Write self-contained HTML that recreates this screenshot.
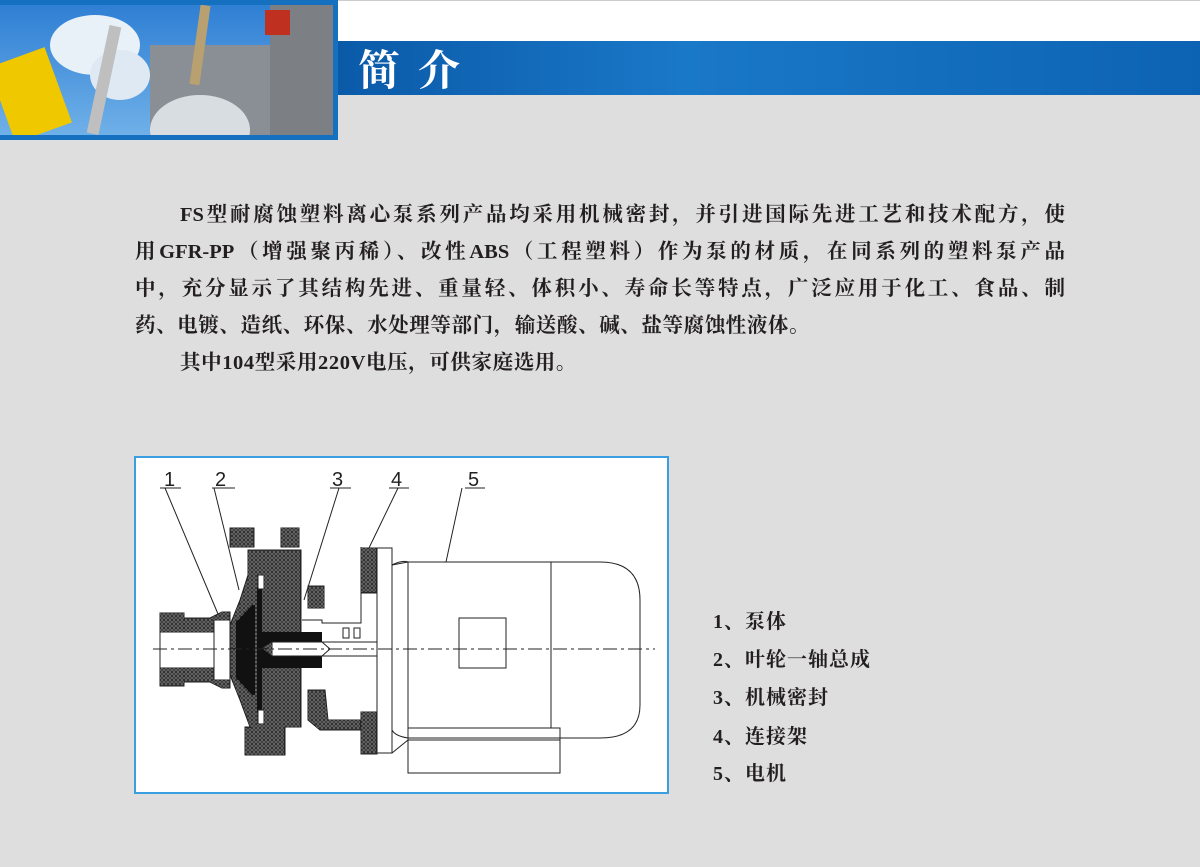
<!DOCTYPE html>
<html><head><meta charset="utf-8">
<style>
html,body{margin:0;padding:0}
body{width:1200px;height:867px;background:#dededf;position:relative;overflow:hidden;font-family:"Liberation Serif","Noto Serif CJK SC",serif}
.ln{position:absolute;left:135px;width:930px;font-size:20.5px;font-weight:bold;color:#231f20;white-space:nowrap;line-height:24px}
.j{text-align:justify;text-align-last:justify}
.lg{position:absolute;left:713px;font-size:20px;font-weight:bold;color:#231f20;line-height:22px;letter-spacing:1px}
</style></head><body>
<div style="position:absolute;left:338px;top:0;width:862px;height:41px;background:#fff;border-top:1px solid #ccc"></div>
<div style="position:absolute;left:338px;top:41px;width:862px;height:54px;background:linear-gradient(90deg,#0a5aa8,#1a78c8 40%,#0d63b3)"></div>
<div style="position:absolute;left:358px;top:40px;font-size:42px;font-weight:bold;color:#fff;font-family:'Noto Serif CJK SC',serif;letter-spacing:18px;line-height:56px">简介</div>
<div style="position:absolute;left:0;top:0;width:338px;height:140px;background:#1570c0"></div>
<svg style="position:absolute;left:0;top:5px" width="333" height="130" viewBox="0 0 333 130">
<defs><linearGradient id="sky" x1="0" y1="0" x2="0" y2="1"><stop offset="0" stop-color="#2f7fd4"/><stop offset="1" stop-color="#6fb0e8"/></linearGradient></defs>
<rect width="333" height="130" fill="url(#sky)"/>
<ellipse cx="95" cy="40" rx="45" ry="30" fill="#e8f0f8"/>
<ellipse cx="120" cy="70" rx="30" ry="25" fill="#dfe9f4"/>
<rect x="0" y="50" width="60" height="80" fill="#f0c800" transform="rotate(-20 30 90)"/>
<rect x="98" y="20" width="12" height="110" fill="#bfbfbf" transform="rotate(12 104 75)"/>
<rect x="150" y="40" width="140" height="90" fill="#8a8f96"/>
<ellipse cx="200" cy="125" rx="50" ry="35" fill="#d8dde2"/>
<rect x="270" y="0" width="63" height="130" fill="#7c7f84"/>
<rect x="265" y="5" width="25" height="25" fill="#c03020"/>
<rect x="195" y="0" width="10" height="80" fill="#b8a070" transform="rotate(8 200 40)"/>
</svg>
<div class="ln j" style="left:180px;width:885px;top:203px">FS型耐腐蚀塑料离心泵系列产品均采用机械密封，并引进国际先进工艺和技术配方，使</div>
<div class="ln j" style="top:240px">用GFR-PP（增强聚丙稀）、改性ABS（工程塑料）作为泵的材质，在同系列的塑料泵产品</div>
<div class="ln j" style="top:277px">中，充分显示了其结构先进、重量轻、体积小、寿命长等特点，广泛应用于化工、食品、制</div>
<div class="ln" style="top:314px;letter-spacing:0.6px">药、电镀、造纸、环保、水处理等部门，输送酸、碱、盐等腐蚀性液体。</div>
<div class="ln" style="left:180px;top:351px;letter-spacing:0.6px">其中104型采用220V电压，可供家庭选用。</div>
<div style="position:absolute;left:134px;top:456px;width:531px;height:334px;background:#fff;border:2px solid #3a9ee0"></div>
<svg style="position:absolute;left:0;top:0" width="1200" height="867" viewBox="0 0 1200 867" fill="none" stroke="#222" stroke-width="1">
<defs><pattern id="h" width="4" height="4" patternUnits="userSpaceOnUse"><rect width="4" height="4" fill="#fff"/><path d="M0 0L4 4M4 0L0 4" stroke="#333" stroke-width="1"/></pattern></defs>
<g font-family="Liberation Sans,sans-serif" font-size="20" fill="#222" stroke="none">
<text x="164" y="486">1</text><text x="215" y="486">2</text><text x="332" y="486">3</text><text x="391" y="486">4</text><text x="468" y="486">5</text></g>
<path d="M160 488H181M212 488H235M330 488H351M389 488H409M465 488H485"/>
<path d="M165 488L218 614M214 488L239 590M339 488L304 600M398 488L368 550M462 488L446 562"/>
<rect x="160" y="613" width="24" height="73" fill="url(#h)"/>
<path d="M184 618H210L222 612H230V688H222L210 682H184Z" fill="url(#h)"/>
<rect x="160" y="632" width="62" height="36" fill="#fff"/>
<rect x="214" y="620" width="16" height="60" fill="#fff" stroke="#222"/>
<rect x="230" y="528" width="24" height="19" fill="url(#h)"/><rect x="281" y="528" width="18" height="19" fill="url(#h)"/>
<path d="M248 550H301V727H285V755H245V727H250L240 700L230 675V625L240 600L248 575Z" fill="url(#h)"/>
<rect x="308" y="586" width="16" height="22" fill="url(#h)"/>
<path d="M308 690L325 690L328 720H365V730H320L308 720Z" fill="url(#h)"/>
<rect x="361" y="548" width="16" height="45" fill="url(#h)"/>
<rect x="361" y="712" width="16" height="42" fill="url(#h)"/>
<path d="M302 620H322V623H361V547" />
<rect x="377" y="548" width="15" height="205" fill="#fff"/>
<path d="M257 587L262 587L262 712L257 712Z M236 622L252 605L255 605L255 695L252 695L236 678Z M262 632H322V642H272L262 648L272 656H322V668H262Z" fill="#111" stroke="none"/>
<rect x="258" y="575" width="6" height="14" fill="#fff"/><rect x="258" y="710" width="6" height="14" fill="#fff"/>
<rect x="272" y="642" width="105" height="14" fill="#fff"/>
<path d="M322 642L330 649L322 656"/>
<rect x="343" y="628" width="6" height="10" fill="#fff"/><rect x="354" y="628" width="6" height="10" fill="#fff"/>
<path d="M392 565Q402 560 408 562H600Q640 562 640 600V705Q640 738 600 738H408Q395 736 392 730"/>
<path d="M392 565L408 562V773M392 730V548M392 753L408 740"/>
<path d="M551 562V728"/>
<rect x="408" y="728" width="152" height="45" fill="none"/>
<path d="M408 740H560"/>
<rect x="459" y="618" width="47" height="50"/>
<path d="M153 649H655" stroke-dasharray="14 4 3 4"/>
</svg>
<div class="lg" style="top:611px">1、泵体</div>
<div class="lg" style="top:649px">2、叶轮一轴总成</div>
<div class="lg" style="top:687px">3、机械密封</div>
<div class="lg" style="top:726px">4、连接架</div>
<div class="lg" style="top:763px">5、电机</div>
</body></html>
